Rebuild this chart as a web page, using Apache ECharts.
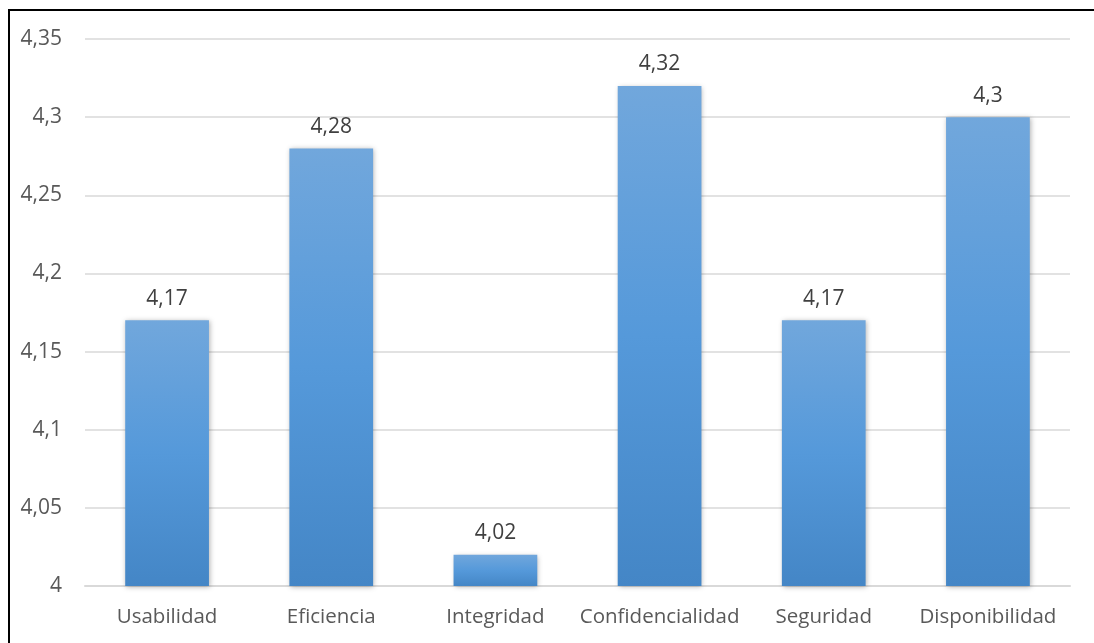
<!DOCTYPE html>
<html>
<head>
<meta charset="utf-8">
<script src="https://cdn.jsdelivr.net/npm/echarts@6/dist/echarts.min.js"></script>
<style>
  html, body { margin: 0; padding: 0; background: #fff; }
  #chart { width: 1094px; height: 643px; }
</style>
</head>
<body>
<div id="chart"></div>
<script>
const categories = ['Usabilidad', 'Eficiencia', 'Integridad', 'Confidencialidad', 'Seguridad', 'Disponibilidad']
const scores = [4.17, 4.28, 4.02, 4.32, 4.17, 4.3]
const yMin = 4
const yMax = 4.35
const yStep = 0.05

const fmt = (v) => String(parseFloat(v.toFixed(2))).replace('.', ',')
const font = '"Open Sans", "Liberation Sans", sans-serif'

const chart = echarts.init(document.getElementById('chart'))
chart.setOption({
  backgroundColor: '#fff',
  animation: false,
  grid: { left: 85, right: 24, top: 39, bottom: 57 },
  graphic: [
    {
      type: 'rect',
      shape: { x: 9, y: 10, width: 1200, height: 800 },
      style: { fill: 'none', stroke: '#000', lineWidth: 2 },
      silent: true,
    },
  ],
  xAxis: {
    type: 'category',
    data: categories,
    axisTick: { show: false },
    axisLine: { lineStyle: { color: '#d9d9d9', width: 2 } },
    axisLabel: { color: '#595959', fontSize: 20.5, fontFamily: font, margin: 21, interval: 0 },
  },
  yAxis: {
    type: 'value',
    min: yMin,
    max: yMax,
    interval: yStep,
    axisLine: { show: false },
    axisTick: { show: false },
    axisLabel: { color: '#595959', fontSize: 21, fontFamily: font, margin: 23, formatter: fmt },
    splitLine: { lineStyle: { color: '#d9d9d9', width: 1.5 } },
  },
  series: [
    {
      type: 'bar',
      data: scores,
      barWidth: '51%',
      itemStyle: {
        color: new echarts.graphic.LinearGradient(0, 0, 0, 1, [
          { offset: 0, color: '#71a7dc' },
          { offset: 0.5, color: '#5599da' },
          { offset: 1, color: '#4486c6' },
        ]),
        shadowColor: 'rgba(0,0,0,0.3)',
        shadowBlur: 5,
        shadowOffsetX: 1,
        shadowOffsetY: 1,
      },
      label: {
        show: true,
        position: 'top',
        distance: 11,
        color: '#404040',
        fontSize: 21,
        fontFamily: font,
        formatter: (p) => fmt(p.value),
      },
    },
  ],
})
</script>
</body>
</html>
